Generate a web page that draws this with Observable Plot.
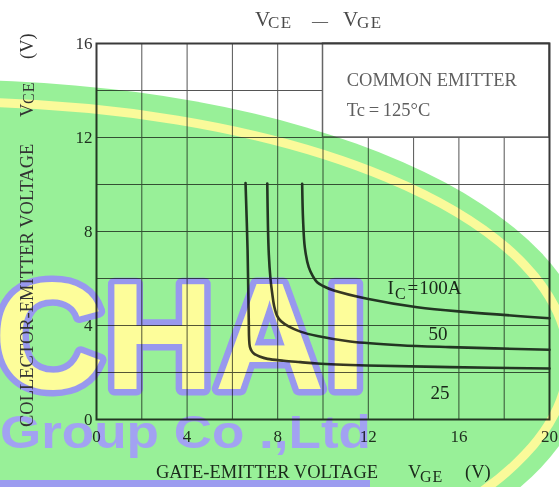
<!DOCTYPE html>
<html>
<head>
<meta charset="utf-8">
<script src="https://cdn.jsdelivr.net/npm/d3@7"></script>
<script src="https://cdn.jsdelivr.net/npm/@observablehq/plot@0.6"></script>
<style>
html,body{margin:0;padding:0;background:#fff;}
#page{position:relative;width:559px;height:487px;overflow:hidden;background:#fff;}
#wm{position:absolute;left:0;top:0;}
#chart{position:absolute;left:0;top:0;}
#chart svg{mix-blend-mode:multiply;}
.lbl{position:absolute;font-family:"Liberation Serif",serif;white-space:nowrap;line-height:1;mix-blend-mode:multiply;}
#ylab{position:absolute;left:0;top:427px;width:400px;height:40px;transform-origin:0 0;transform:rotate(-90deg);}
</style>
</head>
<body>
<div id="page">
  <svg id="wm" width="559" height="487">
    <ellipse cx="-50" cy="360" rx="640" ry="280" fill="#98f098"/>
    <ellipse cx="-50" cy="360" rx="618" ry="258" fill="none" stroke="#fafa9a" stroke-width="9"/>
    <rect x="0" y="480" width="370" height="7" fill="#9c9cf0"/>
    <text x="-6" y="389" font-family="Liberation Sans" font-weight="bold" font-size="152" textLength="373" lengthAdjust="spacingAndGlyphs" fill="#fdfd9a" stroke="#9898ee" stroke-width="13" stroke-linejoin="round" paint-order="stroke">CHAI</text>
    <text x="0" y="448" font-family="Liberation Sans" font-weight="bold" font-size="46" textLength="371" lengthAdjust="spacingAndGlyphs" fill="#a2a2f2">Group Co .,Ltd</text>
  </svg>
  <div id="chart"></div>

  <!-- title -->
  <span class="lbl" style="left:255px;top:9.4px;font-size:21px;color:#4a4a4a">V</span>
  <span class="lbl" style="left:268px;top:14px;font-size:17px;letter-spacing:1.5px;color:#4a4a4a">CE</span>
  <span class="lbl" style="left:312px;top:13px;font-size:16px;color:#4a4a4a">—</span>
  <span class="lbl" style="left:343px;top:9.4px;font-size:21px;color:#4a4a4a">V</span>
  <span class="lbl" style="left:357px;top:14px;font-size:17px;letter-spacing:1.5px;color:#4a4a4a">GE</span>

  <!-- x label -->
  <span class="lbl" style="left:156px;top:462.5px;font-size:18.5px;color:#2e2e2e">GATE-EMITTER VOLTAGE</span>
  <span class="lbl" style="left:408px;top:462.5px;font-size:18.5px;color:#2e2e2e">V</span>
  <span class="lbl" style="left:420px;top:468.5px;font-size:16px;letter-spacing:1px;color:#2e2e2e">GE</span>
  <span class="lbl" style="left:465px;top:462.5px;font-size:18.5px;color:#2e2e2e">(V)</span>

  <!-- y label -->
  <div id="ylab">
    <span class="lbl" style="left:0px;top:17.5px;font-size:18.5px;color:#333">COLLECTOR-EMITTER VOLTAGE</span>
    <span class="lbl" style="left:310px;top:17.5px;font-size:18.5px;color:#333">V</span>
    <span class="lbl" style="left:323px;top:21px;font-size:16px;letter-spacing:1px;color:#333">CE</span>
    <span class="lbl" style="left:368px;top:17.5px;font-size:18.5px;color:#333">(V)</span>
  </div>
</div>

<script>
// ---- data ----
const xTicks = [0, 4, 8, 12, 16, 20];
const yTicks = [0, 4, 8, 12, 16];
const xGrid = [0, 2, 4, 6, 8, 10, 12, 14, 16, 18, 20];
const yGrid = [0, 2, 4, 6, 8, 10, 12, 14, 16];

const seriesIC = ["25A", "50A", "100A"];
const vge25 = [6.58, 6.67, 6.72, 6.77, 6.86, 6.98, 7.2, 7.55, 8.27, 9.0, 9.75, 11.95, 15.6, 20];
const vce25 = [10.06, 7.2, 4.35, 3.1, 2.9, 2.78, 2.68, 2.58, 2.5, 2.44, 2.38, 2.3, 2.23, 2.17];
const vge50 = [7.54, 7.6, 7.68, 7.76, 7.85, 7.98, 8.15, 8.5, 9.0, 9.75, 11.2, 13.4, 15.6, 20];
const vce50 = [10.04, 7.2, 6.0, 5.35, 4.8, 4.4, 4.18, 3.95, 3.74, 3.55, 3.32, 3.16, 3.08, 2.97];
const vge100 = [9.08, 9.12, 9.2, 9.37, 9.55, 9.74, 10.0, 10.48, 11.95, 14.16, 16.37, 20];
const vce100 = [10.03, 8.5, 7.3, 6.48, 6.1, 5.84, 5.68, 5.49, 5.14, 4.78, 4.57, 4.31];

const curveLabels = ["IC=100A", "50", "25"];
const curveLabelX = [12.85, 14.66, 14.75];
const curveLabelY = [5.62, 3.66, 1.12];

const noteBox = {x1: 10, x2: 20, y1: 12, y2: 16};
const noteLines = ["COMMON EMITTER", "Tc\u2009=\u2009125°C"];
const noteX = [11.05, 11.05];
const noteY = [14.43, 13.15];

// ---- build tables ----
const xs = [vge25, vge50, vge100];
const ys = [vce25, vce50, vce100];
const rows = [];
seriesIC.forEach((ic, k) => xs[k].forEach((v, i) => rows.push({ic, vge: v, vce: ys[k][i]})));
const labelRows = curveLabels.map((t, i) => ({t, x: curveLabelX[i], y: curveLabelY[i]}));
const noteRows = noteLines.map((t, i) => ({t, x: noteX[i], y: noteY[i]}));

const chart = Plot.plot({
  width: 559,
  height: 487,
  marginLeft: 96,
  marginRight: 10,
  marginTop: 43,
  marginBottom: 68,
  x: {domain: [0, 20]},
  y: {domain: [0, 16]},
  style: {fontFamily: "'Liberation Serif', serif", fontSize: "17px", color: "#333", background: "transparent"},
  marks: [
    Plot.ruleX(xGrid, {stroke: "#555", strokeWidth: 1}),
    Plot.ruleY(yGrid, {stroke: "#555", strokeWidth: 1}),
    Plot.rect([noteBox], {x1: "x1", x2: "x2", y1: "y1", y2: "y2", fill: "white", stroke: "#666", strokeWidth: 1.5}),
    Plot.frame({stroke: "#3a3a3a", strokeWidth: 2}),
    Plot.line(rows, {x: "vge", y: "vce", z: "ic", curve: "catmull-rom", stroke: "#383838", strokeWidth: 2.6}),
    Plot.text(labelRows, {x: "x", y: "y", text: "t", textAnchor: "start", fontSize: 19, fill: "#2a2a2a"}),
    Plot.text(noteRows, {x: "x", y: "y", text: "t", textAnchor: "start", fontSize: 18.5, fill: "#5e5e5e"}),
    Plot.axisX(xTicks, {tickSize: 0, tickPadding: 10, label: null, fill: "#333"}),
    Plot.axisY(yTicks, {tickSize: 0, tickPadding: 4, label: null, fill: "#333"})
  ]
});
document.getElementById("chart").appendChild(chart);

// subscript C in the IC label
chart.querySelectorAll("text").forEach(el => {
  if (el.textContent === "IC=100A") {
    const ns = "http://www.w3.org/2000/svg";
    while (el.firstChild) el.removeChild(el.firstChild);
    el.appendChild(document.createTextNode("I"));
    const sub = document.createElementNS(ns, "tspan");
    sub.setAttribute("font-size", "16");
    sub.setAttribute("dy", "5");
    sub.setAttribute("dx", "1");
    sub.textContent = "C";
    el.appendChild(sub);
    const eq = document.createElementNS(ns, "tspan");
    eq.setAttribute("dy", "-5");
    eq.setAttribute("dx", "2");
    eq.textContent = "=";
    el.appendChild(eq);
    const val = document.createElementNS(ns, "tspan");
    val.setAttribute("dx", "1");
    val.textContent = "100A";
    el.appendChild(val);
  }
});
</script>
</body>
</html>
